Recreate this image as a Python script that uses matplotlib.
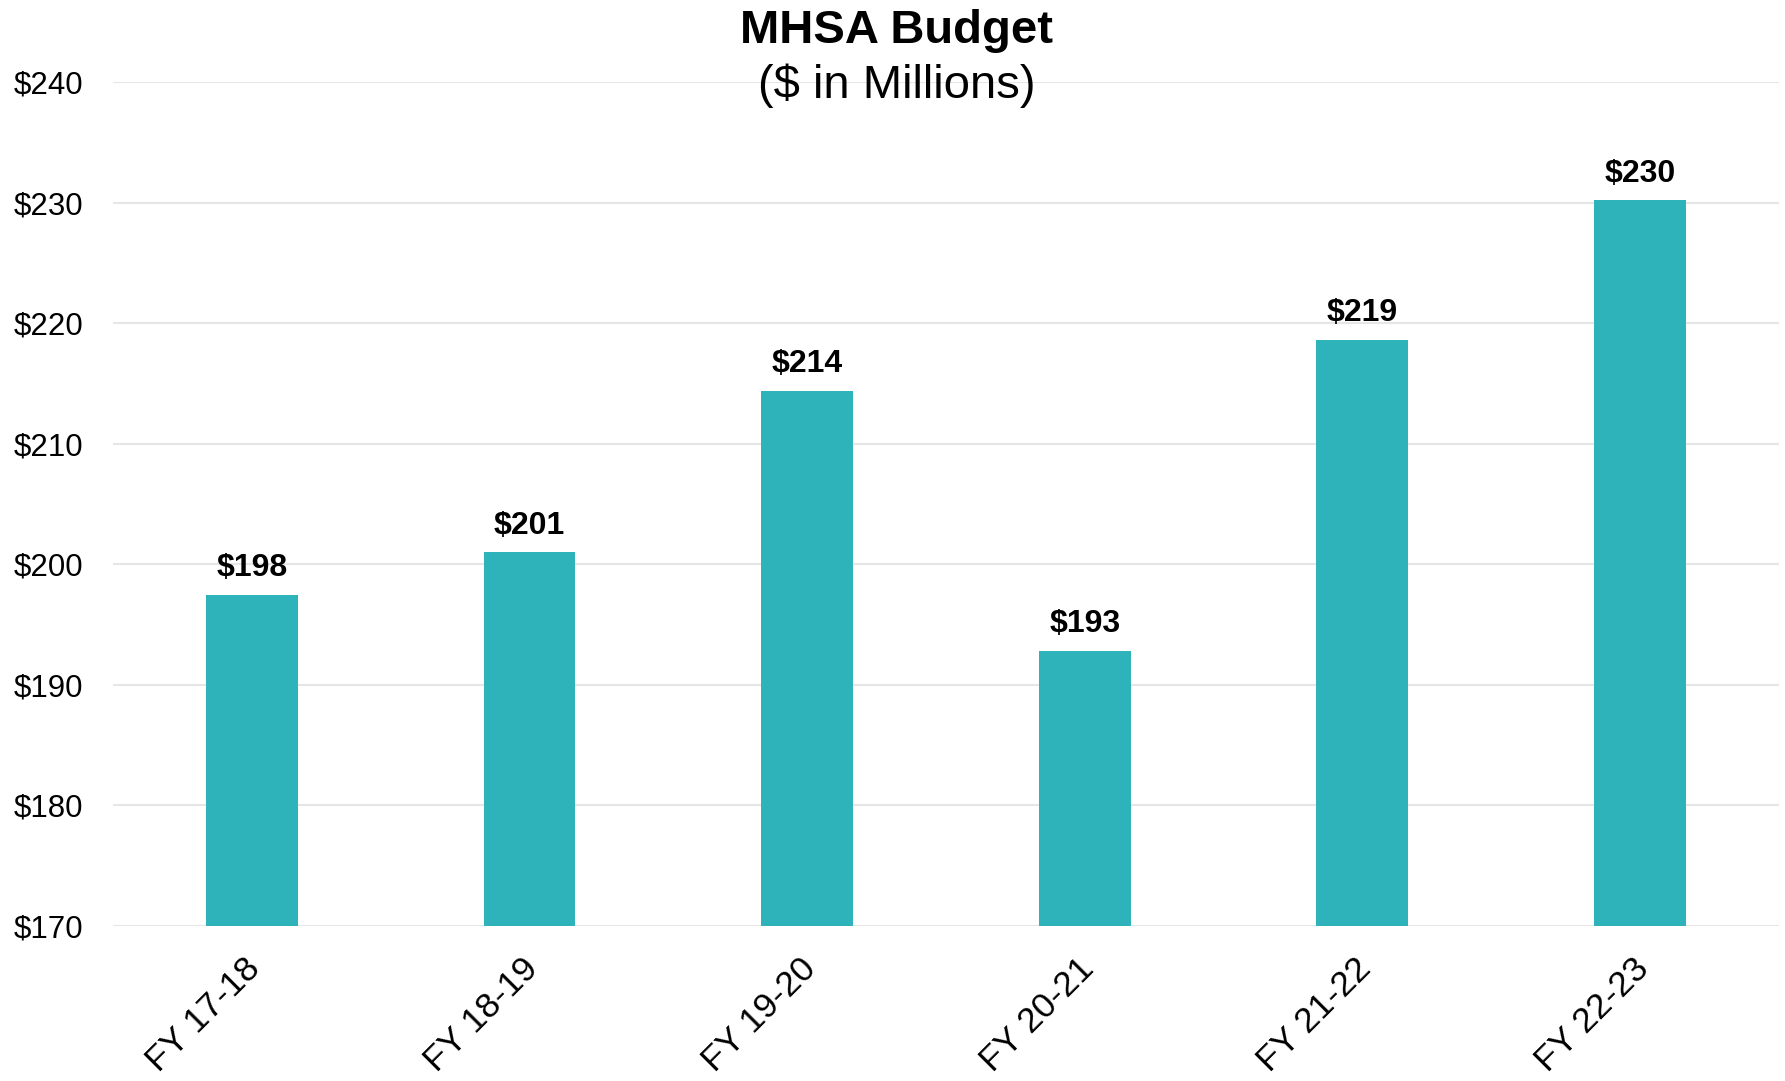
import numpy as np
import matplotlib.pyplot as plt
from matplotlib.transforms import ScaledTranslation

plt.rcParams['font.family'] = ['Liberation Sans', 'DejaVu Sans']

categories = ['FY 17-18', 'FY 18-19', 'FY 19-20', 'FY 20-21', 'FY 21-22', 'FY 22-23']
budget = [197.5, 201.0, 214.4, 192.8, 218.6, 230.2]
labels = ['$198', '$201', '$214', '$193', '$219', '$230']
yticks = [170, 180, 190, 200, 210, 220, 230, 240]

fig = plt.figure(figsize=(17.85, 10.81), dpi=100)
ax = fig.add_axes([0.0633, 0.1434, 0.9333, 0.7805])

x = np.arange(len(categories))
ax.bar(x, budget, width=0.331, color='#2FB3BA', zorder=3)

# value labels above bars
for xi, v, lab in zip(x, budget, labels):
    ax.annotate(lab, (xi, v), xytext=(0, 13.5), textcoords='offset points',
                ha='center', va='baseline', fontsize=23, fontweight='bold')

ax.set_ylim(170, 240)
ax.set_xlim(-0.5, 5.5)
ax.set_yticks(yticks)
ax.set_yticklabels(['$%d' % t for t in yticks], fontsize=22.5)
ax.set_xticks(x)
ax.set_xticklabels(categories, fontsize=25.5, rotation=45, ha='right',
                   rotation_mode='anchor')
ax.tick_params(length=0)
ax.tick_params(axis='y', pad=21.5)
ax.tick_params(axis='x', pad=19)
shift = ScaledTranslation(-0.08, 0, fig.dpi_scale_trans)
for t in ax.get_xticklabels():
    t.set_transform(t.get_transform() + shift)
ax.grid(axis='y', color='#E6E6E6', linewidth=1.5, zorder=0)
for s in ax.spines.values():
    s.set_visible(False)

fig.text(0.5022, 0.960, 'MHSA Budget', ha='center', va='baseline',
         fontsize=34, fontweight='bold')
fig.text(0.5022, 0.909, '($ in Millions)', ha='center', va='baseline', fontsize=34)

plt.savefig('out.png', dpi=100)
